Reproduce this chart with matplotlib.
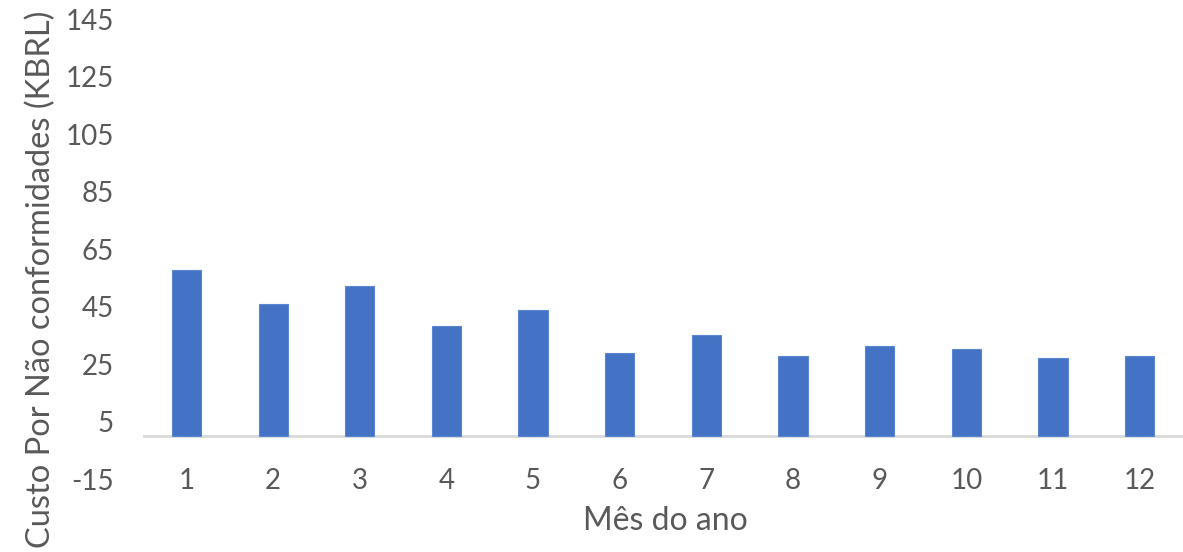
import matplotlib
matplotlib.use("Agg")
import matplotlib.pyplot as plt

months = ["1", "2", "3", "4", "5", "6", "7", "8", "9", "10", "11", "12"]
costs = [57.9, 45.8, 52.2, 38.2, 44.0, 28.9, 35.3, 27.8, 31.2, 30.1, 27.2, 27.8]
yticks = [-15, 5, 25, 45, 65, 85, 105, 125, 145]

plt.rcParams["font.family"] = ["Lato", "DejaVu Sans"]
text_color = "#595959"

fig = plt.figure(figsize=(11.83, 5.52), dpi=100)
ax = fig.add_axes([0.1209, 0.1322, 0.8791, 0.8327])

x = list(range(1, len(months) + 1))
ax.bar(x, costs, width=0.335, color="#4472C4", edgecolor="#5B86D1", linewidth=0.8, zorder=2)
ax.axhline(0, color="#D9D9D9", linewidth=2, zorder=1)

ax.set_xlim(0.5, len(months) + 0.5)
ax.set_ylim(-15, 145)
ax.set_xticks(x)
ax.set_xticklabels(months)
ax.set_yticks(yticks)
ax.set_yticklabels([str(v) for v in yticks])

for s in ax.spines.values():
    s.set_visible(False)

ax.tick_params(axis="both", length=0, labelsize=20, labelcolor=text_color)
ax.tick_params(axis="x", pad=-8)
ax.tick_params(axis="y", pad=21)

ax.set_xlabel("Mês do ano", fontsize=23, color=text_color, va="center", ha="center")
ax.xaxis.set_label_coords(0.5019, -0.092)
ax.set_ylabel("Custo Por Não conformidades (KBRL)", fontsize=23.5, color=text_color,
              va="center", ha="center")
ax.yaxis.set_label_coords(-0.098, 0.435)

fig.savefig("out.png", dpi=100)
